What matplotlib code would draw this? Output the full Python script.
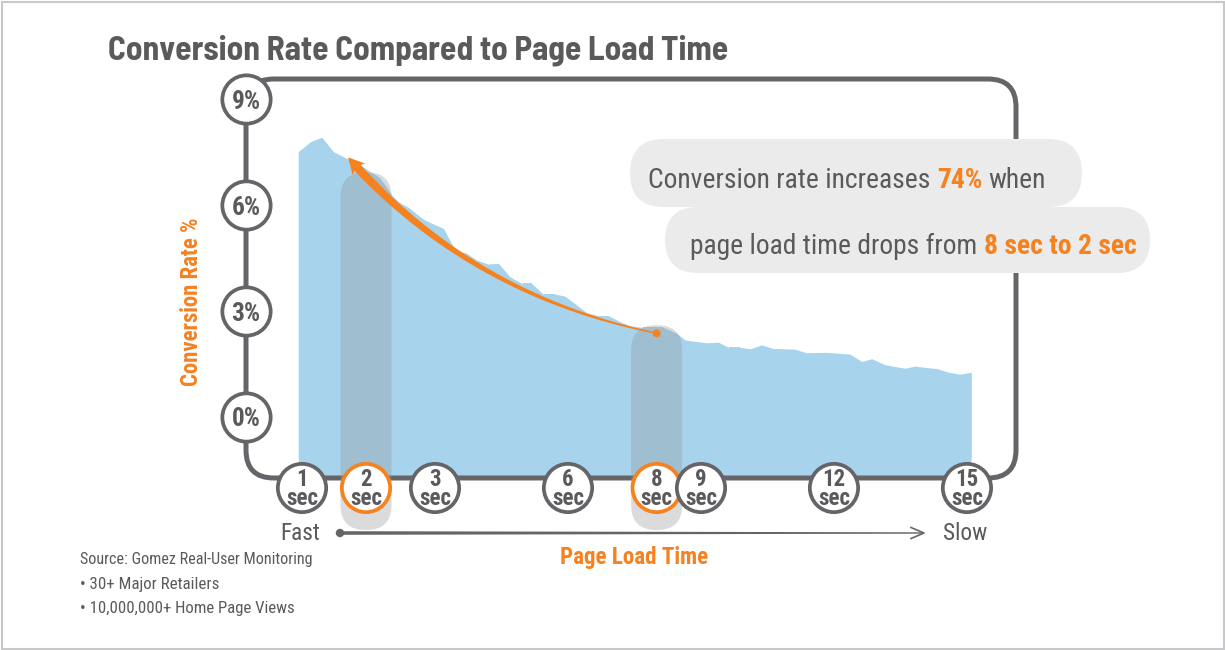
import numpy as np
import matplotlib
matplotlib.use('Agg')
import matplotlib.pyplot as plt
import matplotlib.transforms as mtransforms
from matplotlib.patches import FancyBboxPatch, Polygon, Rectangle, Circle
from matplotlib.lines import Line2D
from matplotlib import font_manager as fm

# ------------------------------------------------------------------ data
load_time_sec = [0.94, 1.13, 1.31, 1.49, 1.70, 1.91, 2.20, 2.39, 2.47, 2.61,
                 2.83, 2.98, 3.19, 3.45, 3.72, 3.94, 4.20, 4.43, 4.69, 4.96,
                 5.18, 5.44, 5.71, 5.93, 6.20, 6.42, 6.68, 6.91, 7.17, 7.40,
                 7.66, 8.15, 8.45, 8.64, 9.13, 9.39, 9.62, 9.88, 10.11, 10.37,
                 10.63, 11.12, 11.38, 11.84, 12.36, 12.63, 12.85, 13.15, 13.60, 13.83,
                 14.09, 14.32, 14.58, 14.84, 15.11]
conversion_pct = [7.51, 7.79, 7.92, 7.51, 7.32, 7.13, 6.77, 6.25, 6.09, 5.94,
                  5.60, 5.46, 5.34, 4.73, 4.63, 4.44, 4.33, 4.35, 3.97, 3.78,
                  3.78, 3.48, 3.48, 3.42, 3.17, 2.95, 2.87, 2.87, 2.70, 2.58,
                  2.54, 2.54, 2.37, 2.18, 2.10, 2.12, 1.97, 1.97, 1.93, 2.04,
                  1.94, 1.92, 1.82, 1.83, 1.78, 1.57, 1.65, 1.48, 1.38, 1.44,
                  1.40, 1.37, 1.27, 1.21, 1.27]
x_tick_sec = [1, 2, 3, 6, 8, 9, 12, 15]
y_tick_pct = [0, 3, 6, 9]
highlight_sec = [2, 8]
highlight_top_pct = [6.93, 2.60]
arrow_from = (8.0, 2.37)     # (sec, %)
arrow_ctrl = (3.79, 3.45)
arrow_to = (1.72, 7.35)

title = "Conversion Rate Compared to Page Load Time"
callout_1 = [("Conversion rate increases", False), ("74%", True), ("when", False)]
callout_2 = [("page load time drops from", False), ("8 sec to 2 sec", True)]
y_label = "Conversion Rate %"
x_label = "Page Load Time"
source_lines = ["Source: Gomez Real-User Monitoring",
                "\u2022 30+ Major Retailers",
                "\u2022 10,000,000+ Home Page Views"]

# ------------------------------------------------------------------ style
W, H = 1225, 650
GRAY_TEXT = '#5a5a5c'
FRAME = '#666468'
ORANGE = '#f5821f'
BLUE = '#a7d4ec'
PILL = '#ebebeb'
HILITE = '#8f9093'

TTF = fm.fontManager.ttflist
avail = {f.name for f in TTF}
def pick(cands):
    for c in cands:
        if c in avail:
            return c
    return 'DejaVu Sans'
def _w(f):
    return f.weight if isinstance(f.weight, (int, float)) else fm.weight_dict.get(f.weight, 400)
def pick_bold(cands):
    for c in cands:
        if any(f.name == c and _w(f) >= 600 for f in TTF):
            return c
    return 'DejaVu Sans'
F_REG = pick(['Roboto Condensed', 'Barlow Condensed', 'Archivo Narrow', 'Asap Condensed'])
F_BOLD = pick_bold(['Roboto Condensed', 'Barlow Condensed', 'Archivo Narrow', 'Asap Condensed'])
F_TITLE = pick_bold(['Barlow Semi Condensed', 'Roboto Condensed', 'Asap Condensed'])

fig = plt.figure(figsize=(W / 100, H / 100), dpi=100, facecolor='white')
ax = fig.add_axes([0, 0, 1, 1])
ax.set_axis_off()
ax.set_autoscale_on(False)

# piecewise x scale of the infographic (1,2,3 s spread out, then linear)
KS = np.array([-30., 1., 2., 3., 60.])
KP = np.array([302 - 31 * 64, 302, 366, 435, 435 + 57 * 44.33])
def fwd(s):
    return np.interp(s, KS, KP)
def inv(p):
    return np.interp(p, KP, KS)
ax.set_xscale('function', functions=(fwd, inv))
ax.set_xlim(inv(0), inv(W))
Y0, PPU = 417.0, 35.33
ax.set_ylim((Y0 - H) / PPU, Y0 / PPU)

# pixel transform (origin top-left)
P = mtransforms.Affine2D().scale(1.0 / W, -1.0 / H).translate(0, 1) + fig.transFigure
BX = mtransforms.blended_transform_factory(ax.transData, P)
BY = mtransforms.blended_transform_factory(P, ax.transData)
def d2p(x, y):
    return P.inverted().transform(ax.transData.transform((x, y)))

def rbox(x0, y0, x1, y1, r, **kw):
    return FancyBboxPatch((x0, y0), x1 - x0, y1 - y0,
                          boxstyle=f"round,pad=0,rounding_size={r}", transform=P, **kw)

renderer = fig.canvas.get_renderer()
def fit(t, target, axis='w'):
    bb = t.get_window_extent(renderer)
    cur = bb.width if axis == 'w' else bb.height
    t.set_fontsize(t.get_fontsize() * target / cur)

# outer border
ax.add_patch(Rectangle((1.5, 1.5), W - 3, H - 3, fill=False, ec='#c8c8ca', lw=1.5,
                       transform=P, clip_on=False, zorder=0))

# frame
ax.add_patch(rbox(246, 79, 1016, 478, 28, fill=False, ec=FRAME, lw=3.6, zorder=3))

# area
base = (Y0 - 476) / PPU
area = ax.fill_between(load_time_sec, conversion_pct, base, color=BLUE, lw=0, zorder=2)
xa0 = d2p(load_time_sec[0], 0)[0]
xa1 = d2p(load_time_sec[-1], 0)[0]
clip = rbox(xa0, 100, xa1, 476, 20)
area.set_clip_path(clip)

# highlight bars
for s, top in zip(highlight_sec, highlight_top_pct):
    cx, ty = d2p(s, top)
    ax.add_patch(rbox(cx - 25.5, ty, cx + 25.5, 530, 25, fc=HILITE, ec='none',
                      alpha=0.32, zorder=4))

# curved orange arrow
p0 = d2p(*arrow_from)
c1 = d2p(*arrow_ctrl)
p2 = d2p(*arrow_to)
def bez(t):
    t = np.asarray(t, float)[:, None]
    return (1 - t) ** 2 * p0 + 2 * t * (1 - t) * c1 + t ** 2 * p2
tt = np.linspace(0, 1, 400)
pts_all = bez(tt)
dist = np.hypot(*(pts_all - p2).T)
tb = tt[np.argmin(np.abs(dist - 15))]
ts = np.linspace(0, tb + 0.01, 200)
pts = bez(ts)
d = 2 * (1 - ts)[:, None] * (c1 - p0) + 2 * ts[:, None] * (p2 - c1)
n = np.column_stack([-d[:, 1], d[:, 0]]) / np.hypot(d[:, 0], d[:, 1])[:, None]
wdt = 1.6 + 7.0 * (ts / ts[-1]) ** 1.2
poly = np.vstack([pts + n * wdt[:, None] / 2, (pts - n * wdt[:, None] / 2)[::-1]])
ax.add_patch(Polygon(poly, closed=True, fc=ORANGE, ec='none', transform=P, zorder=5))
B = bez([tb])[0]
u = (p2 - B) / np.hypot(*(p2 - B))
v = np.array([-u[1], u[0]])
head = np.array([p2, B + v * 8.5 - u * 1.5, B + u * 2.5, B - v * 8.5 - u * 1.5])
ax.add_patch(Polygon(head, closed=True, fc=ORANGE, ec='none', transform=P, zorder=5))
ax.add_patch(Circle(p0, 4, fc=ORANGE, ec='none', transform=P, zorder=5))

# callout pills
ax.add_patch(rbox(630, 139, 1082, 207, 34, fc=PILL, ec='none', zorder=5))
ax.add_patch(rbox(665, 207, 1150, 273, 33, fc=PILL, ec='none', zorder=5))

def rich_line(x, y, pieces, target_w, size=20):
    txts = []
    for s, bold in pieces:
        t = ax.text(0, y, s, transform=P, fontsize=size,
                    family=F_BOLD if bold else F_REG,
                    weight='bold' if bold else 'normal',
                    color=ORANGE if bold else GRAY_TEXT, va='baseline', ha='left', zorder=7)
        txts.append(t)
    sp_t = ax.text(0, 0, "x x", transform=P, fontsize=size, family=F_REG)
    sp_t2 = ax.text(0, 0, "xx", transform=P, fontsize=size, family=F_REG)
    sp = sp_t.get_window_extent(renderer).width - sp_t2.get_window_extent(renderer).width
    sp_t.remove(); sp_t2.remove()
    widths = [t.get_window_extent(renderer).width for t in txts]
    total = sum(widths) + sp * (len(txts) - 1)
    k = target_w / total
    cx = x
    for t, w in zip(txts, widths):
        t.set_fontsize(size * k)
        t.set_x(cx)
        cx += (w + sp) * k

rich_line(648, 188.5, callout_1, 398)
rich_line(690, 254, callout_2, 446)

# axis ticks as circles
ax.scatter(x_tick_sec, [488] * len(x_tick_sec), transform=BX, s=1210, fc='white',
           ec=[ORANGE if s in highlight_sec else FRAME for s in x_tick_sec],
           linewidths=2.7, zorder=6, clip_on=False)
for s in x_tick_sec:
    ax.text(s, 489, f"{s}\nsec", transform=BX, ha='center', va='center',
            multialignment='center', linespacing=0.8,
            family=F_BOLD, weight='bold', fontsize=16.5, color=GRAY_TEXT, zorder=7)
ax.scatter([246] * len(y_tick_pct), y_tick_pct, transform=BY, s=1210, fc='white',
           ec=FRAME, linewidths=2.7, zorder=6, clip_on=False)
for p in y_tick_pct:
    t = ax.text(246, p, f"{p}%", transform=BY, ha='center', va='center_baseline',
                family=F_BOLD, weight='bold', fontsize=15, color=GRAY_TEXT, zorder=7)
    fit(t, 29)

# title
tt_ = ax.text(108, 60, title, transform=P, ha='left', va='baseline', family=F_TITLE,
              weight='bold', fontsize=22, color=GRAY_TEXT, zorder=7)
fit(tt_, 620)

# axis labels
yl = ax.text(192, 302, y_label, transform=P, rotation=90, ha='center', va='center',
             family=F_BOLD, weight='bold', fontsize=16, color=ORANGE, zorder=7)
fit(yl, 169, 'h')
xl = ax.text(634, 564, x_label, transform=P, ha='center', va='baseline',
             family=F_BOLD, weight='bold', fontsize=16, color=ORANGE, zorder=7)
fit(xl, 148)

# fast -> slow
tf = ax.text(300, 540, "Fast", transform=P, ha='center', va='baseline', family=F_REG,
             fontsize=16, color=GRAY_TEXT, zorder=7)
fit(tf, 40)
tsl = ax.text(965, 540, "Slow", transform=P, ha='center', va='baseline', family=F_REG,
              fontsize=16, color=GRAY_TEXT, zorder=7)
fit(tsl, 44)
xs = np.linspace(340, 923, 50)
ws = np.linspace(3.6, 1.4, 50)
ax.add_patch(Polygon(np.vstack([np.column_stack([xs, 533 - ws / 2]),
                                np.column_stack([xs, 533 + ws / 2])[::-1]]),
                     closed=True, fc=FRAME, ec='none', transform=P, zorder=5))
ax.add_patch(Circle((340, 533), 4.2, fc=FRAME, ec='none', transform=P, zorder=5))
ax.add_line(Line2D([911, 924, 911], [527.5, 533, 538.5], color=FRAME, lw=1.2,
                   transform=P, zorder=5))

# source
src_w = [233, 139, 213]
for i, (s, w) in enumerate(zip(source_lines, src_w)):
    t = ax.text(80, 564 + 24.5 * i, s, transform=P, ha='left', va='baseline', family=F_REG,
                fontsize=11, color=GRAY_TEXT, zorder=7)
    fit(t, w)

fig.savefig('out.png', dpi=100, facecolor='white')
